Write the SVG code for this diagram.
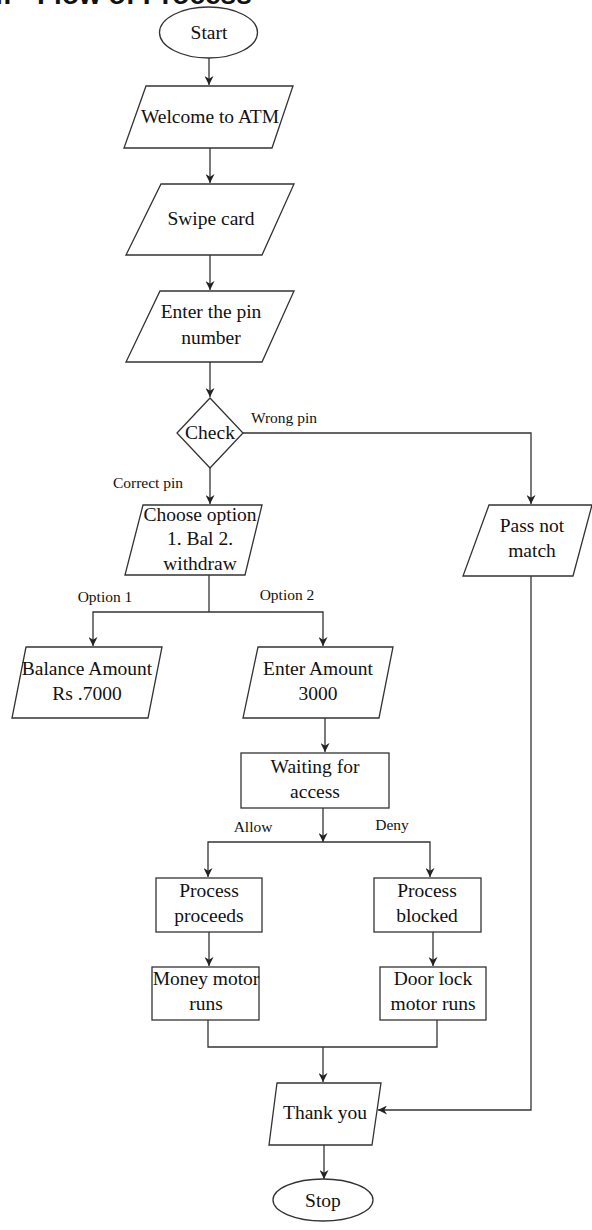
<svg xmlns="http://www.w3.org/2000/svg" width="592" height="1230" viewBox="0 0 592 1230">
<defs>
<marker id="arr" viewBox="0 0 10 10" refX="10" refY="5" markerWidth="9" markerHeight="9" markerUnits="userSpaceOnUse" orient="auto">
<path d="M0,0 L10,5 L0,10 L3,5 Z" fill="#222"/>
</marker>
<style>
.s{fill:#fff;stroke:#333;stroke-width:1.3}
.t{font-family:"Liberation Serif","Times New Roman",serif;font-size:19.5px;fill:#111;text-anchor:middle}
.l{font-family:"Liberation Serif","Times New Roman",serif;font-size:15.5px;fill:#111;text-anchor:middle}
.c{fill:none;stroke:#333;stroke-width:1.3}
.h{font-family:"Liberation Sans",Arial,sans-serif;font-weight:bold;font-size:28px;fill:#111}
</style>
</defs>
<rect width="592" height="1230" fill="#fff"/>
<text class="h" y="4"><tspan x="-12">4.</tspan><tspan x="37">Flow of Process</tspan></text>

<g id="connectors">
<path class="c" d="M209,58 V85" marker-end="url(#arr)"/>
<path class="c" d="M210,148 V183" marker-end="url(#arr)"/>
<path class="c" d="M210,255 V290" marker-end="url(#arr)"/>
<path class="c" d="M210,362 V397" marker-end="url(#arr)"/>
<path class="c" d="M243,433 H531 V504" marker-end="url(#arr)"/>
<path class="c" d="M210,468 V504" marker-end="url(#arr)"/>
<path class="c" d="M209,575 V612"/>
<path class="c" d="M209,612 H93 V646" marker-end="url(#arr)"/>
<path class="c" d="M209,612 H323 V646" marker-end="url(#arr)"/>
<path class="c" d="M325,718 V752" marker-end="url(#arr)"/>
<path class="c" d="M323,808 V842" marker-end="url(#arr)"/>
<path class="c" d="M323,842 H208 V877" marker-end="url(#arr)"/>
<path class="c" d="M323,842 H430 V877" marker-end="url(#arr)"/>
<path class="c" d="M209,932 V966" marker-end="url(#arr)"/>
<path class="c" d="M433,932 V966" marker-end="url(#arr)"/>
<path class="c" d="M208,1020 V1047 H437 V1020"/>
<path class="c" d="M323,1047 V1082" marker-end="url(#arr)"/>
<path class="c" d="M531,576 V1110 H378" marker-end="url(#arr)"/>
<path class="c" d="M324,1145 V1179" marker-end="url(#arr)"/>
<text class="l" x="284" y="423">Wrong pin</text>
<text class="l" x="148" y="488">Correct pin</text>
<text class="l" x="105" y="602">Option 1</text>
<text class="l" x="287" y="600">Option 2</text>
<text class="l" x="253" y="832">Allow</text>
<text class="l" x="392" y="830">Deny</text>
</g>

<g id="start">
<ellipse class="s" cx="208.5" cy="32.5" rx="49" ry="25.5"/>
<text class="t" x="209" y="39">Start</text>
</g>
<g id="welcome">
<polygon class="s" points="146,86 293,86 272,148 124,148"/>
<text class="t" x="210" y="123">Welcome to ATM</text>
</g>
<g id="swipe">
<polygon class="s" points="161,184 294,184 262,255 126,255"/>
<text class="t" x="211" y="225">Swipe card</text>
</g>
<g id="pin">
<polygon class="s" points="160,291 294,291 262,362 126,362"/>
<text class="t" x="211" y="318">Enter the pin</text>
<text class="t" x="211" y="344">number</text>
</g>
<g id="check">
<polygon class="s" points="210,398 243,433 210,468 177,433"/>
<text class="t" x="210" y="439">Check</text>
</g>
<g id="choose">
<polygon class="s" points="143,505 262,505 245,575 125,575"/>
<text class="t" x="200" y="521">Choose option</text>
<text class="t" x="200" y="545">1. Bal 2.</text>
<text class="t" x="200" y="570">withdraw</text>
</g>
<g id="passnotmatch">
<polygon class="s" points="489,505 592,505 573,576 463,576"/>
<text class="t" x="532" y="532">Pass not</text>
<text class="t" x="532" y="557">match</text>
</g>
<g id="balance">
<polygon class="s" points="26,647 162,647 148,718 12,718"/>
<text class="t" x="87" y="675">Balance Amount</text>
<text class="t" x="87" y="700">Rs .7000</text>
</g>
<g id="enteramount">
<polygon class="s" points="258,647 393,647 379,718 243,718"/>
<text class="t" x="318" y="675">Enter Amount</text>
<text class="t" x="318" y="700">3000</text>
</g>
<g id="waiting">
<rect class="s" x="241" y="753" width="148" height="55"/>
<text class="t" x="315" y="773">Waiting for</text>
<text class="t" x="315" y="798">access</text>
</g>
<g id="proceeds">
<rect class="s" x="156" y="878" width="106" height="54"/>
<text class="t" x="209" y="897">Process</text>
<text class="t" x="209" y="922">proceeds</text>
</g>
<g id="blocked">
<rect class="s" x="374" y="878" width="107" height="54"/>
<text class="t" x="427" y="897">Process</text>
<text class="t" x="427" y="922">blocked</text>
</g>
<g id="money">
<rect class="s" x="152" y="967" width="107" height="53"/>
<text class="t" x="206" y="985">Money motor</text>
<text class="t" x="206" y="1010">runs</text>
</g>
<g id="doorlock">
<rect class="s" x="380" y="967" width="106" height="53"/>
<text class="t" x="433" y="985">Door lock</text>
<text class="t" x="433" y="1010">motor runs</text>
</g>
<g id="thankyou">
<polygon class="s" points="277,1083 381,1083 372,1145 269,1145"/>
<text class="t" x="325" y="1119">Thank you</text>
</g>
<g id="stop">
<ellipse class="s" cx="323" cy="1200" rx="50" ry="21"/>
<text class="t" x="323" y="1207">Stop</text>
</g>
</svg>
